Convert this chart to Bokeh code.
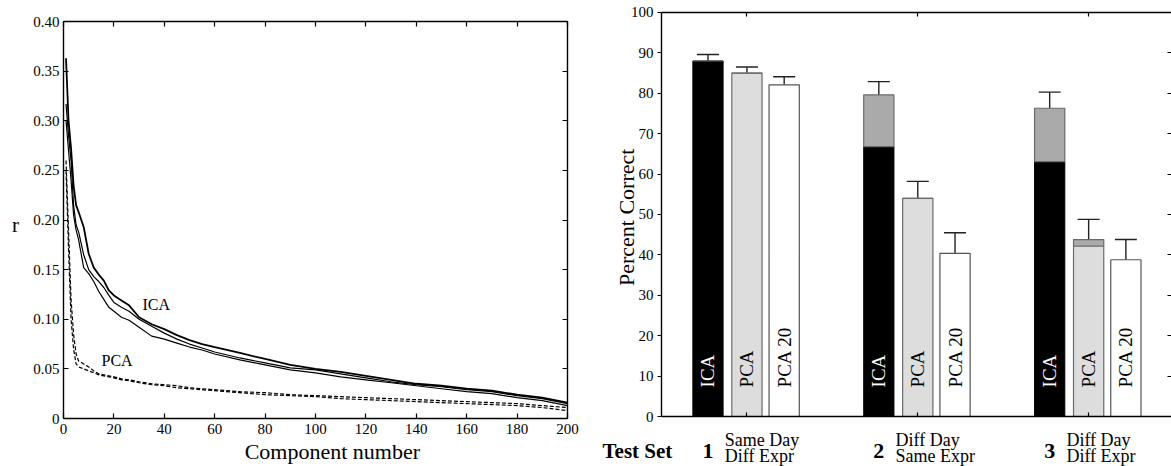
import numpy as np
from bokeh.plotting import figure
from bokeh.models import (Range1d, LinearAxis, FixedTicker, Label, ColumnDataSource,
                          Whisker, TeeHead, NumeralTickFormatter)
from bokeh.transform import dodge
from bokeh.layouts import row
from bokeh.embed import file_html
from bokeh.resources import INLINE
from bokeh.core.properties import value

FONT = "Liberation Serif"

# ---------------- left panel data ----------------
component = [1, 2, 3, 4, 5, 6, 8, 10, 12, 14, 16, 18, 20, 23, 26, 30, 35, 40, 45, 50,
             55, 60, 70, 80, 90, 100, 110, 120, 130, 140, 150, 160, 170, 180, 190, 200]
ica_a = [0.363, 0.300, 0.272, 0.235, 0.215, 0.208, 0.193, 0.166, 0.152, 0.145, 0.139, 0.129,
         0.124, 0.119, 0.114, 0.102, 0.095, 0.090, 0.084, 0.079, 0.075, 0.072, 0.066, 0.060,
         0.054, 0.050, 0.047, 0.043, 0.039, 0.035, 0.033, 0.030, 0.028, 0.024, 0.021, 0.016]
ica_b = [0.317, 0.285, 0.260, 0.215, 0.195, 0.188, 0.165, 0.150, 0.143, 0.138, 0.132, 0.124,
         0.117, 0.112, 0.108, 0.100, 0.093, 0.086, 0.080, 0.075, 0.071, 0.067, 0.061, 0.056,
         0.051, 0.049, 0.045, 0.041, 0.037, 0.034, 0.032, 0.029, 0.027, 0.023, 0.020, 0.015]
ica_c = [0.300, 0.270, 0.240, 0.205, 0.190, 0.180, 0.152, 0.146, 0.138, 0.128, 0.120, 0.112,
         0.108, 0.102, 0.099, 0.092, 0.083, 0.080, 0.076, 0.072, 0.069, 0.065, 0.059, 0.054,
         0.049, 0.046, 0.042, 0.039, 0.036, 0.033, 0.030, 0.027, 0.025, 0.021, 0.018, 0.013]
pca_a = [0.260, 0.190, 0.120, 0.085, 0.065, 0.058, 0.055, 0.052, 0.048, 0.045, 0.044, 0.043,
         0.042, 0.040, 0.039, 0.037, 0.035, 0.034, 0.033, 0.031, 0.030, 0.029, 0.027, 0.026,
         0.024, 0.023, 0.022, 0.021, 0.020, 0.019, 0.018, 0.017, 0.016, 0.015, 0.013, 0.011]
pca_b = [0.250, 0.170, 0.100, 0.070, 0.055, 0.052, 0.050, 0.048, 0.046, 0.044, 0.043, 0.042,
         0.041, 0.039, 0.038, 0.036, 0.034, 0.033, 0.031, 0.030, 0.029, 0.028, 0.026, 0.024,
         0.023, 0.022, 0.020, 0.019, 0.018, 0.017, 0.016, 0.015, 0.014, 0.013, 0.011, 0.008]
x_ticks_left = [0, 20, 40, 60, 80, 100, 120, 140, 160, 180, 200]
y_ticks_left = [0, 0.05, 0.10, 0.15, 0.20, 0.25, 0.30, 0.35, 0.40]
y_tick_labels_left = ["0", "0.05", "0.10", "0.15", "0.20", "0.25", "0.30", "0.35", "0.40"]

# ---------------- right panel data ----------------
test_sets = [1, 2, 3]
set_numbers = ["1", "2", "3"]
desc_top = ["Same Day", "Diff Day", "Diff Day"]
desc_bottom = ["Diff Expr", "Same Expr", "Diff Expr"]
bar_labels = ["ICA", "PCA", "PCA 20"]
ica_base = [88.0, 66.8, 63.1]
ica_total = [88.0, 79.6, 76.3]
ica_err = [1.6, 3.3, 4.0]
pca_base = [85.0, 54.0, 42.2]
pca_total = [85.0, 54.0, 43.8]
pca_err = [1.5, 4.2, 5.0]
pca20_total = [82.1, 40.4, 38.8]
pca20_err = [2.0, 5.1, 5.0]
y_ticks_right = [0, 10, 20, 30, 40, 50, 60, 70, 80, 90, 100]


def make_axis(ticks, loc, bounds, tick_in, tick_out, labels=True, line=True, size="15px", standoff=4):
    ax = LinearAxis(fixed_location=loc, bounds=bounds)
    ax.ticker = FixedTicker(ticks=ticks)
    ax.major_tick_in = tick_in
    ax.major_tick_out = tick_out
    ax.minor_tick_line_color = None
    ax.major_tick_line_color = "black"
    ax.major_tick_line_width = 1.2
    ax.axis_line_color = "black" if line else None
    ax.axis_line_width = 1.4
    ax.major_label_text_font = FONT
    ax.major_label_text_color = "black"
    if labels:
        ax.major_label_text_font_size = size
        ax.major_label_standoff = standoff
    else:
        ax.major_label_text_font_size = "0px"
        ax.major_label_standoff = 0
    return ax


def txt(x, y, s, size, align="left", bold=False, angle=0.0, color="black"):
    return Label(x=x, y=y, text=s, text_font=FONT, text_font_size=size, angle=angle,
                 text_font_style="bold" if bold else "normal", text_color=color,
                 text_baseline="alphabetic", text_align=align)


# ================= left figure =================
p1 = figure(frame_width=580, frame_height=466, x_range=Range1d(-25.0, 205.16),
            y_range=Range1d(-0.04836, 0.42116), output_backend="svg", toolbar_location=None,
            x_axis_location=None, y_axis_location=None,
            min_border_left=0, min_border_right=0, min_border_top=0, min_border_bottom=0)
p1.outline_line_color = None
p1.grid.visible = False
p1.background_fill_color = "white"
p1.border_fill_color = "white"

bx1 = make_axis(x_ticks_left, 0, (0, 200), 5, 0, labels=True, standoff=5)
ly1 = make_axis(y_ticks_left, 0, (0, 0.40), 5, 0, labels=True, standoff=4)
ly1.formatter = NumeralTickFormatter(format="0.00")
ly1.major_label_overrides = {t: l for t, l in zip(y_ticks_left, y_tick_labels_left)}
tx1 = make_axis(x_ticks_left, 0.40, (0, 200), 5, 0, labels=False)
ry1 = make_axis(y_ticks_left, 200, (0, 0.40), 5, 0, labels=False)
p1.add_layout(bx1, "below")
p1.add_layout(ly1, "left")
p1.add_layout(tx1, "above")
p1.add_layout(ry1, "right")

src1 = ColumnDataSource(dict(x=component, ia=ica_a, ib=ica_b, ic=ica_c, pa=pca_a, pb=pca_b))
p1.line("x", "pa", source=src1, line_color="black", line_width=1.2, line_dash="4 2")
p1.line("x", "pb", source=src1, line_color="black", line_width=1.2, line_dash="4 2")
p1.line("x", "ic", source=src1, line_color="black", line_width=1.2)
p1.line("x", "ib", source=src1, line_color="black", line_width=1.2)
p1.line("x", "ia", source=src1, line_color="black", line_width=1.8)

p1.add_layout(txt(31.3, 0.1149, "ICA", "16px"))
p1.add_layout(txt(15.1, 0.0584, "PCA", "16px"))
p1.add_layout(txt(-19, 0.1945, "r", "21px", align="center"))
p1.add_layout(txt(106.7, -0.0333, "Component number", "22px", align="center"))

# ================= right figure =================
p2 = figure(frame_width=591, frame_height=466, x_range=Range1d(0.0259, 3.485),
            y_range=Range1d(-12.376, 102.97), output_backend="svg", toolbar_location=None,
            x_axis_location=None, y_axis_location=None,
            min_border_left=0, min_border_right=0, min_border_top=0, min_border_bottom=0)
p2.outline_line_color = None
p2.grid.visible = False
p2.background_fill_color = "white"
p2.border_fill_color = "white"

bx2 = make_axis(test_sets, 0, (0.5, 3.485), 4, 0, labels=False)
ly2 = make_axis(y_ticks_right, 0.5, (0, 100), 0, 4, labels=True, standoff=4)
tx2 = make_axis(test_sets, 100, (0.5, 3.485), 4, 0, labels=False)
ry2 = make_axis(y_ticks_right, 3.485, (0, 100), 4, 0, labels=False, line=False)
p2.add_layout(bx2, "below")
p2.add_layout(ly2, "left")
p2.add_layout(tx2, "above")
p2.add_layout(ry2, "right")

ica_upper = [t + e for t, e in zip(ica_total, ica_err)]
pca_upper = [t + e for t, e in zip(pca_total, pca_err)]
pca20_upper = [t + e for t, e in zip(pca20_total, pca20_err)]
src2 = ColumnDataSource(dict(x=test_sets, ica_base=ica_base, ica_total=ica_total, ica_upper=ica_upper,
                             pca_base=pca_base, pca_total=pca_total, pca_upper=pca_upper,
                             pca20=pca20_total, pca20_upper=pca20_upper))

offsets = [-0.228, 0.0, 0.218]
W = 0.177
xr = p2.x_range
p2.vbar(x=dodge("x", offsets[0], range=xr), top="ica_base", bottom=0, width=W, source=src2,
        fill_color="black", line_color="black", line_width=1)
p2.vbar(x=dodge("x", offsets[0], range=xr), top="ica_total", bottom="ica_base", width=W, source=src2,
        fill_color="#aaaaaa", line_color="#6a6a6a", line_width=1.2)
p2.vbar(x=dodge("x", offsets[1], range=xr), top="pca_base", bottom=0, width=W, source=src2,
        fill_color="#dddddd", line_color="#6a6a6a", line_width=1.2)
p2.vbar(x=dodge("x", offsets[1], range=xr), top="pca_total", bottom="pca_base", width=W, source=src2,
        fill_color="#aaaaaa", line_color="#6a6a6a", line_width=1.2)
p2.vbar(x=dodge("x", offsets[2], range=xr), top="pca20", bottom=0, width=W, source=src2,
        fill_color="white", line_color="#555555", line_width=1.2)

for off, lo, up in [(offsets[0], "ica_total", "ica_upper"), (offsets[1], "pca_total", "pca_upper"),
                    (offsets[2], "pca20", "pca20_upper")]:
    p2.add_layout(Whisker(source=src2, base=dodge("x", off, range=xr), lower=lo, upper=up,
                          dimension="height", line_color="#222222", line_width=1.4,
                          lower_head=None,
                          upper_head=TeeHead(size=22, line_color="#222222", line_width=1.4)))

for off, lbl, col in zip(offsets, bar_labels, ["white", "black", "black"]):
    p2.text(x=dodge("x", off, range=xr), y=7.2, text=value(lbl), source=src2, angle=np.pi / 2,
            text_align="left", text_baseline="middle", text_font=value(FONT),
            text_font_size="19px", text_color=col)

p2.add_layout(txt(0.2951, 49.3, "Percent Correct", "22px", align="center", angle=np.pi / 2))
p2.add_layout(txt(0.1547, -8.66, "Test Set", "21px", bold=True))
for xs, num, d1, d2 in zip(test_sets, set_numbers, desc_top, desc_bottom):
    p2.add_layout(txt(xs - 0.26, -8.66, num, "22px", bold=True))
    p2.add_layout(txt(xs - 0.13, -5.70, d1, "18px"))
    p2.add_layout(txt(xs - 0.13, -9.78, d2, "18px"))

layout = row(p1, p2, spacing=0)
open("out.html", "w").write(file_html(layout, INLINE))
